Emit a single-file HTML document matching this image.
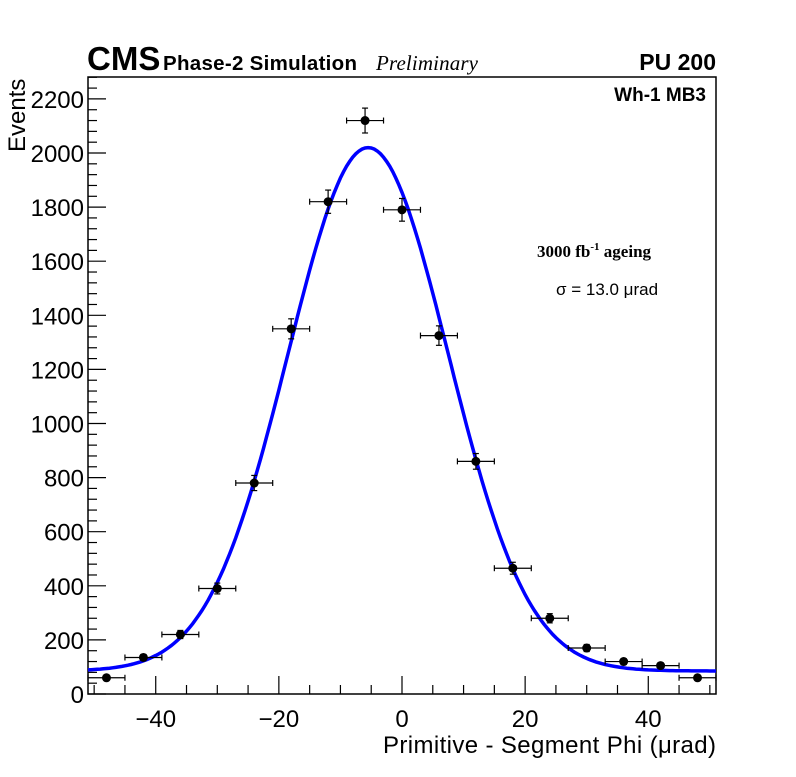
<!DOCTYPE html>
<html><head><meta charset="utf-8">
<style>
body{margin:0;background:#fff;}
svg text{font-family:"Liberation Sans",sans-serif;}
</style></head>
<body>
<svg id="chart" width="796" height="772" xmlns="http://www.w3.org/2000/svg">
<rect width="796" height="772" fill="#fff"/>
<g id="marks"></g>
<text x="87" y="70" font-size="33" font-weight="bold">CMS</text>
<text x="163" y="70" font-size="20.5" font-weight="bold" textLength="194">Phase-2 Simulation</text>
<text x="376" y="70" font-size="21" font-style="italic" style="font-family:'Liberation Serif',serif" textLength="102">Preliminary</text>
<text x="716" y="70" font-size="23" font-weight="bold" text-anchor="end">PU 200</text>
<text x="706" y="101" font-size="19" font-weight="bold" text-anchor="end">Wh-1 MB3</text>
<text x="537" y="257" font-size="17" font-weight="bold" style="font-family:'Liberation Serif',serif">3000 fb<tspan dy="-7" font-size="11">-1</tspan><tspan dy="7"> ageing</tspan></text>
<text x="556" y="295" font-size="17">σ = 13.0 μrad</text>
<text x="716" y="753" font-size="24" text-anchor="end" textLength="333">Primitive - Segment Phi (μrad)</text>
<text transform="translate(25,152) rotate(-90)" font-size="24">Events</text>
</svg>
<script>
const binCenters=[-48,-42,-36,-30,-24,-18,-12,-6,0,6,12,18,24,30,36,42,48];
const counts=[60,135,220,390,780,1350,1820,2120,1790,1325,860,465,280,170,120,105,60];
const errors=[8,11,15,20,28,37,43,46,42,36,29,22,17,13,11,10,8];
const fitParams=[1935,-5.5,13.0,85];
const xTicks=[-40,-20,0,20,40];
const yTicks=[0,200,400,600,800,1000,1200,1400,1600,1800,2000,2200];
const X0=88,X1=716,Y0=694,Y1=77,XMIN=-51,XMAX=51,YMAX=2281;
const sx=v=>X0+(v-XMIN)/(XMAX-XMIN)*(X1-X0);
const sy=v=>Y0-v/YMAX*(Y0-Y1);
const NS="http://www.w3.org/2000/svg";
const g=document.getElementById('marks');
function mk(t,a){const e=document.createElementNS(NS,t);for(const k in a)e.setAttribute(k,a[k]);g.appendChild(e);return e;}
let e=mk('rect',{x:X0,y:Y1,width:X1-X0,height:Y0-Y1,fill:'none',stroke:'#000','stroke-width':1.5});


for(let v=-50;v<=50;v+=5){const big=v%20===0;
 e=mk('line',{x1:sx(v),x2:sx(v),y1:Y0,y2:Y0-(big?18:9),stroke:'#000','stroke-width':1.2});
 
 }
xTicks.forEach(v=>{e=mk('text',{x:sx(v),y:Y0+33,'font-size':24,'text-anchor':'middle'});e.textContent=(v<0?'\u2212'+(-v):v);
 
 });
for(let v=0;v<=2280;v+=40){const big=v%200===0;
 e=mk('line',{x1:X0,x2:X0+(big?18:9),y1:sy(v),y2:sy(v),stroke:'#000','stroke-width':1.2});
 
 }
yTicks.forEach(v=>{e=mk('text',{x:X0-4,y:sy(v)+9,'font-size':24,'text-anchor':'end'});e.textContent=v;
 
 });
let d='';for(let x=XMIN;x<=XMAX;x+=0.5){const y=fitParams[3]+fitParams[0]*Math.exp(-Math.pow(x-fitParams[1],2)/(2*fitParams[2]*fitParams[2]));d+=(d?'L':'M')+sx(x).toFixed(1)+','+sy(y).toFixed(1);}
e=mk('path',{d:d,fill:'none',stroke:'#0000ff','stroke-width':3.5});


binCenters.forEach((c,i)=>{const y=sy(counts[i]);
 const grp=document.createElementNS(NS,'g');g.appendChild(grp);
 
 
 const add=(t,a)=>{const q=document.createElementNS(NS,t);for(const k in a)q.setAttribute(k,a[k]);grp.appendChild(q);};
 const xl=sx(Math.max(c-3,XMIN)),xr=sx(Math.min(c+3,XMAX));
 add('line',{x1:xl,x2:xr,y1:y,y2:y,stroke:'#000','stroke-width':1.2});
 add('line',{x1:xl,x2:xl,y1:y-3,y2:y+3,stroke:'#000','stroke-width':1.2});
 add('line',{x1:xr,x2:xr,y1:y-3,y2:y+3,stroke:'#000','stroke-width':1.2});
 const yt=sy(counts[i]+errors[i]),yb=sy(counts[i]-errors[i]);
 add('line',{x1:sx(c),x2:sx(c),y1:yt,y2:yb,stroke:'#000','stroke-width':1.2});
 add('line',{x1:sx(c)-3,x2:sx(c)+3,y1:yt,y2:yt,stroke:'#000','stroke-width':1.2});
 add('line',{x1:sx(c)-3,x2:sx(c)+3,y1:yb,y2:yb,stroke:'#000','stroke-width':1.2});
 add('circle',{cx:sx(c),cy:y,r:4.5,fill:'#000'});
});
</script>
</body></html>
